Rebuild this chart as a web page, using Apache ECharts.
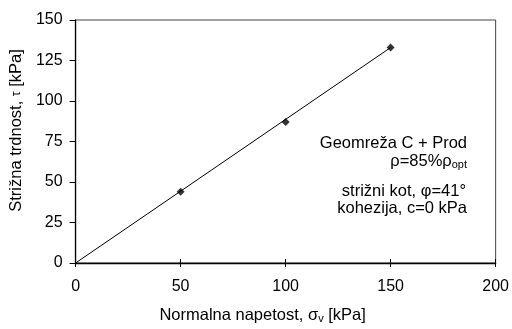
<!DOCTYPE html>
<html><head><meta charset="utf-8">
<script src="https://cdn.jsdelivr.net/npm/echarts@6/dist/echarts.min.js"></script>
<style>html,body{margin:0;padding:0;background:#fff}#c{width:512px;height:329px}</style>
</head><body><div id="c"></div>
<script>
const sigmaX = [50, 100, 150];
const tauY = [44, 87, 133];
const fitLine = [[0, 0], [150, 133]];
const xTicks = [0, 50, 100, 150, 200];
const yTicks = [0, 25, 50, 75, 100, 125, 150];

const font = 'Liberation Sans, Arial, sans-serif';
const chart = echarts.init(document.getElementById('c'), null, {renderer: 'canvas'});
const axisCommon = {
  axisLine: {show: true, onZero: false, lineStyle: {color: '#000', width: 1.3}},
  splitLine: {show: false},
  axisLabel: {color: '#000', fontFamily: font, fontSize: 16},
  nameTextStyle: {color: '#000', fontFamily: font, fontSize: 16.5}
};
chart.setOption({
  animation: false,
  grid: {left: 73, right: 15, top: 20, bottom: 62, show: true, borderColor: '#444', borderWidth: 1},
  xAxis: [Object.assign({}, axisCommon, {
    type: 'value', min: 0, max: 200, interval: 50,
    axisTick: {show: true, length: 4, lineStyle: {color: '#000'}},
    axisLabel: Object.assign({}, axisCommon.axisLabel, {margin: 16}),
    name: '{a|Normalna napetost, σ}{s|v}{a| [kPa]}',
    nameLocation: 'middle', nameGap: 43,
    nameTextStyle: {padding: [0, 46, 0, 0], rich: {
      a: {fontFamily: font, fontSize: 16.5, color: '#000'},
      s: {fontFamily: font, fontSize: 11, color: '#000', padding: [7, 0, 0, 0]}
    }}
  }), {
    type: 'value', min: 0, max: 200, interval: 50, position: 'bottom',
    axisLine: {show: false}, axisLabel: {show: false}, splitLine: {show: false},
    axisTick: {show: true, inside: true, length: 4, lineStyle: {color: '#000'}}
  }],
  yAxis: Object.assign({}, axisCommon, {
    type: 'value', min: 0, max: 150, interval: 25,
    axisTick: {show: true, length: 6, lineStyle: {color: '#000'}},
    axisLabel: Object.assign({}, axisCommon.axisLabel, {margin: 13}),
    name: '{a|Strižna trdnost, }{t|τ}{a| [kPa]}',
    nameLocation: 'middle', nameGap: 47,
    nameTextStyle: {padding: [0, 0, 0, 22], rich: {
      a: {fontFamily: font, fontSize: 16.5, color: '#000'},
      t: {fontFamily: font, fontSize: 12, color: '#000'}
    }}
  }),
  series: [
    {type: 'line', data: fitLine, symbol: 'none', lineStyle: {color: '#000', width: 1}, silent: true},
    {type: 'scatter', data: sigmaX.map((x, i) => [x, tauY[i]]), symbol: 'diamond', symbolSize: 8,
     itemStyle: {color: '#000'}}
  ],
  graphic: [
    {type: 'text', right: 45, top: 135, style: {text: 'Geomreža C + Prod', font: '16.5px ' + font, fill: '#000'}},
    {type: 'text', right: 45, top: 153, style: {
      text: '{a|ρ=85%ρ}{s|opt}', rich: {
        a: {fontFamily: font, fontSize: 16.5, fill: '#000', color: '#000'},
        s: {fontFamily: font, fontSize: 11, fill: '#000', color: '#000', padding: [7, 0, 0, 0]}
      }}},
    {type: 'text', right: 46, top: 183, style: {text: 'strižni kot, φ=41°', font: '16.5px ' + font, fill: '#000'}},
    {type: 'text', right: 45, top: 200, style: {text: 'kohezija, c=0 kPa', font: '16.5px ' + font, fill: '#000'}}
  ]
});
</script></body></html>
